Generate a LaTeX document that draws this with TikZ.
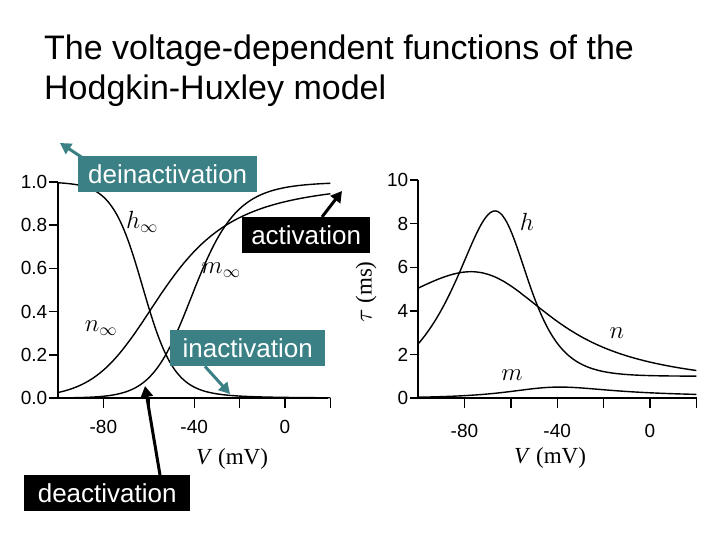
\documentclass[tikz,border=0pt]{standalone}
\usepackage{fontspec}
\setmainfont{Liberation Sans}
\newfontfamily\ser{Liberation Serif}
\usetikzlibrary{arrows.meta}
\definecolor{teal1}{RGB}{58,128,132}
\tikzset{
  curve/.style={line width=1.4pt,smooth},
  ax/.style={line width=1.4pt},
  tlab/.style={font=\fontsize{19}{19}\selectfont},
  box/.style={fill=#1,text=white,font=\fontsize{26}{26}\selectfont,inner sep=0pt,minimum height=36pt,anchor=north west},
  arr/.style={line width=3pt,draw=#1,-{Triangle[length=11pt,width=12pt]}},
  lbl/.style={font=\ser\itshape\fontsize{25}{25}\selectfont},
  vlab/.style={font=\ser\fontsize{23}{23}\selectfont},
  declare function={
    am(\v)=0.1*(\v+40)/(1-exp(-(\v+40)/10));
    bm(\v)=4*exp(-(\v+65)/18);
    ah(\v)=0.07*exp(-(\v+65)/20);
    bh(\v)=1/(1+exp(-(\v+35)/10));
    an(\v)=0.01*(\v+55)/(1-exp(-(\v+55)/10));
    bn(\v)=0.125*exp(-(\v+65)/80);
  }
}
\begin{document}
\begin{tikzpicture}[x=1pt,y=-1pt]
\useasboundingbox (0,0) rectangle (720,540);
\node[anchor=north west,align=left,font=\fontsize{34}{40}\selectfont,inner sep=0pt] (title) at (44,35) {The voltage-dependent functions of the\\Hodgkin-Huxley model};
% left axes
\draw[ax] (58,182) -- (58,398) -- (328,398);
\foreach \y/\t in {0/0.0,0.2/0.2,0.4/0.4,0.6/0.6,0.8/0.8,1.0/1.0}
  \draw[ax] (58,{398-216*\y}) -- (49,{398-216*\y}) node[left,tlab,inner sep=1pt] {\t};
\foreach \v in {-80,-60,-40,-20,0,20}
  \draw[ax] ({58+(\v+100)*2.27},398) -- ({58+(\v+100)*2.27},408);
\foreach \v in {-80,-40,0}
  \node[tlab] at ({58+(\v+100)*2.27},427) {\v};
\node[vlab] (vl) at (232,459) {\textit{V} (mV)};
\draw[curve] plot[domain=-100:20,samples=120] ({58+(\x+100)*2.27},{398-216*am(\x)/(am(\x)+bm(\x))});
\draw[curve] plot[domain=-100:20,samples=120] ({58+(\x+100)*2.27},{398-216*ah(\x)/(ah(\x)+bh(\x))});
\draw[curve] plot[domain=-100:20,samples=120] ({58+(\x+100)*2.27},{398-216*an(\x)/(an(\x)+bn(\x))});
\node[lbl] (hl) at (142,222) {$h_{\infty}$};
\node[lbl] (ml) at (221,270) {$m_{\infty}$};
\node[lbl] (nl) at (101,328) {$n_{\infty}$};
% right axes
\draw[ax] (418,180) -- (418,398) -- (697,398);
\foreach \y in {0,2,4,6,8,10}
  \draw[ax] (418,{398-21.8*\y}) -- (410,{398-21.8*\y}) node[left,tlab,inner sep=1pt] {\y};
\foreach \v in {-80,-60,-40,-20,0,20}
  \draw[ax] ({418+(\v+100)*2.32},398) -- ({418+(\v+100)*2.32},408);
\foreach \v in {-80,-40,0}
  \node[tlab] at ({418+(\v+100)*2.32},431) {\v};
\node[vlab] (vr) at (550,458) {\textit{V} (mV)};
\node[vlab,rotate=90] (tau) at (366,292) {$\tau$ (ms)};
\draw[curve] plot[domain=-100:20,samples=120] ({418+(\x+100)*2.32},{398-21.8/(am(\x)+bm(\x))});
\draw[curve] plot[domain=-100:20,samples=120] ({418+(\x+100)*2.32},{398-21.8/(ah(\x)+bh(\x))});
\draw[curve] plot[domain=-100:20,samples=120] ({418+(\x+100)*2.32},{398-21.8/(an(\x)+bn(\x))});
\node[lbl] (hr) at (527,222) {$h$};
\node[lbl] (nr) at (617,333) {$n$};
\node[lbl] (mr) at (512,375) {$m$};
% annotation boxes
\node[box=teal1,minimum width=179pt] (deina) at (78,156) {deinactivation};
\node[box=teal1,minimum width=155pt] (ina) at (170,330) {inactivation};
\node[box=black,minimum width=128pt] (act) at (242,217) {activation};
\node[box=black,minimum width=166pt] (deact) at (24,475) {deactivation};
\coordinate (e1) at (60,143);
\coordinate (e2) at (230,394);
\coordinate (e3) at (342,191);
\coordinate (e4) at (145,386);
\draw[arr=teal1] (deina.north west) ++(8,4) -- (e1);
\draw[arr=teal1] ([xshift=35pt]ina.south west) -- (e2);
\draw[arr=black] ([xshift=80pt]act.north west) -- (e3);
\draw[arr=black] ([xshift=136pt]deact.north west) -- (e4);
\end{tikzpicture}
\end{document}
